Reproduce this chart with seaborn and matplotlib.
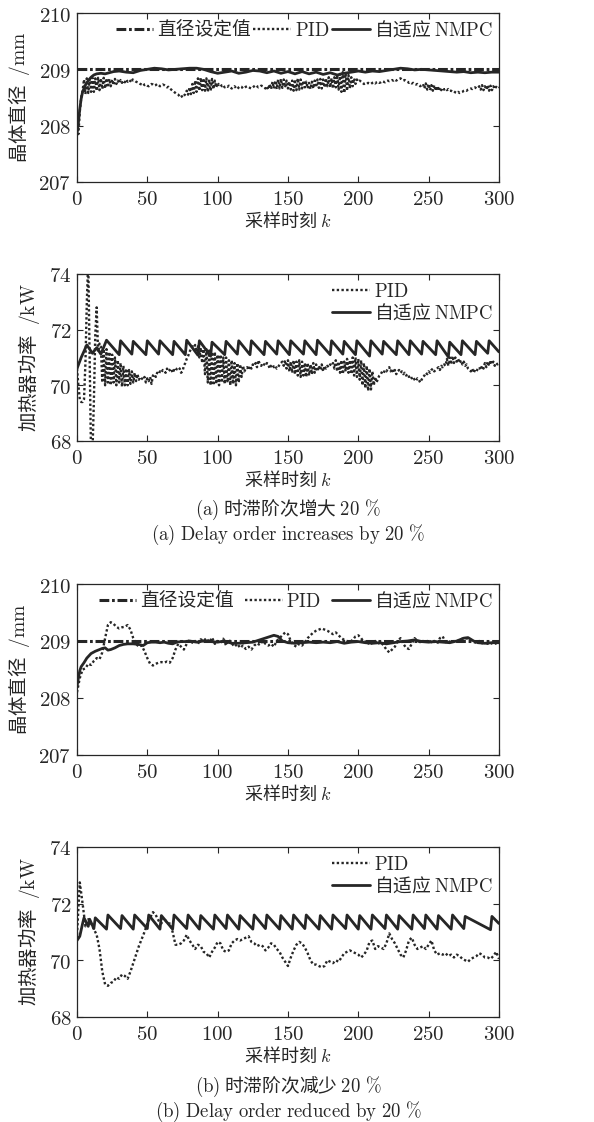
import matplotlib
matplotlib.use("Agg")
import matplotlib.pyplot as plt
from matplotlib.ticker import FuncFormatter
import numpy as np
import seaborn as sns

# ---- data (sample index k) ----
setpoint_k = [0, 300]
setpoint_d = [209.0, 209.0]

# (a) diameter, PID, one value per sample 0..300
a_pid_d = [
    207.95, 207.85, 208.25, 208.5, 208.62,
    208.82, 208.56, 208.84, 208.58, 208.83, 208.6, 208.85, 208.6, 208.84, 208.62,
    208.85, 208.63, 208.84, 208.65, 208.85, 208.66, 208.84, 208.68, 208.83, 208.7,
    208.82, 208.72, 208.83, 208.74, 208.8, 208.75, 208.81, 208.76, 208.8, 208.77,
    208.82, 208.78, 208.81, 208.79, 208.84, 208.8, 208.8, 208.78, 208.77, 208.76,
    208.74, 208.73, 208.75, 208.72, 208.73, 208.71, 208.7, 208.72, 208.74, 208.73,
    208.71, 208.72, 208.74, 208.72, 208.7, 208.71, 208.73, 208.72, 208.7, 208.68,
    208.69, 208.66, 208.64, 208.62, 208.6, 208.58,
    208.56, 208.55, 208.52, 208.54, 208.5, 208.53, 208.56,
    208.62, 208.55, 208.68, 208.56, 208.74, 208.58, 208.8, 208.6, 208.84, 208.62,
    208.85, 208.63, 208.84, 208.62, 208.84, 208.6, 208.82, 208.62, 208.83, 208.65,
    208.8, 208.68,
    208.76, 208.72, 208.74, 208.7, 208.72, 208.68, 208.7, 208.69, 208.71, 208.68,
    208.66, 208.68, 208.7, 208.67, 208.65, 208.68, 208.7, 208.69, 208.66, 208.67,
    208.69, 208.7, 208.68, 208.67, 208.66, 208.68, 208.7, 208.72, 208.7, 208.68,
    208.69, 208.71, 208.7, 208.68, 208.66,
    208.7, 208.64, 208.74, 208.65, 208.78, 208.66, 208.8, 208.65, 208.82, 208.66,
    208.83, 208.67, 208.82, 208.68, 208.8, 208.66,
    208.78, 208.64, 208.8, 208.62, 208.82, 208.63, 208.84, 208.64, 208.82, 208.66,
    208.8, 208.68, 208.78, 208.66, 208.76, 208.65, 208.78, 208.66, 208.8, 208.68,
    208.82, 208.67, 208.83, 208.66, 208.82, 208.68, 208.84, 208.7, 208.86, 208.68,
    208.84, 208.66, 208.86, 208.68, 208.9, 208.64, 208.92, 208.6, 208.95, 208.58,
    208.93, 208.62, 208.9, 208.66, 208.86, 208.7, 208.84, 208.74, 208.82, 208.78,
    208.8, 208.78, 208.76, 208.74, 208.75, 208.74, 208.76, 208.75, 208.74, 208.76,
    208.77, 208.75, 208.77, 208.78, 208.76, 208.77, 208.79, 208.78, 208.77, 208.79,
    208.8, 208.79, 208.8, 208.81, 208.8, 208.82, 208.8, 208.82, 208.83, 208.84,
    208.82, 208.8, 208.81, 208.79, 208.78, 208.76, 208.77, 208.75, 208.76, 208.74,
    208.73, 208.74, 208.72, 208.7, 208.72,
    208.74, 208.66, 208.75, 208.64, 208.74, 208.63, 208.72, 208.62, 208.72, 208.62,
    208.7, 208.62, 208.68, 208.63, 208.67, 208.64, 208.66, 208.63, 208.65, 208.62,
    208.62, 208.6, 208.61, 208.59, 208.58, 208.6, 208.58, 208.59, 208.6, 208.62,
    208.63, 208.62, 208.64, 208.65, 208.66, 208.65, 208.67, 208.68, 208.66, 208.67,
    208.7, 208.64, 208.72, 208.63, 208.7, 208.64, 208.72, 208.62, 208.71, 208.63,
    208.7, 208.65, 208.69, 208.66, 208.68,
]

a_nmpc_k = [0, 1, 2, 3, 4, 6, 8, 10, 12, 14,
            17, 20, 23, 26, 30, 35, 40, 45, 50, 55,
            60, 65, 70, 75, 80, 85, 90, 95, 100, 105,
            110, 115, 120, 125, 130, 135, 140, 145, 150, 155,
            160, 165, 170, 175, 180, 185, 190, 195, 200, 205,
            210, 215, 220, 225, 230, 235, 240, 245, 250, 255,
            260, 265, 270, 275, 280, 285, 290, 295, 300]
a_nmpc_d = [207.85, 208.05, 208.3, 208.48, 208.6, 208.72, 208.8, 208.86, 208.9, 208.92,
            208.93, 208.92, 208.94, 208.96, 208.97, 208.95, 208.94, 208.98, 209.0, 209.02,
            209.01, 208.99, 209.0, 209.01, 209.02, 209.02, 209.0, 208.96, 208.93, 208.95,
            208.97, 208.93, 208.95, 208.98, 208.97, 208.94, 208.97, 208.93, 208.96, 208.92,
            208.96, 208.92, 208.95, 208.91, 208.94, 208.9, 208.93, 208.95, 208.97, 208.95,
            208.97, 208.96, 208.98, 209.0, 209.02, 209.01, 208.99, 209.0, 208.99, 208.98,
            208.97, 208.96, 208.95, 208.96, 208.94, 208.95, 208.94, 208.95, 208.95]

# (a) heater power, PID, one value per sample 0..300
a_pid_p = [
    70.6, 70.0, 69.5, 69.4, 69.4, 69.5, 70.8, 73.0, 74.5, 71.0,
    67.5, 67.6, 69.4, 71.8, 72.8, 71.2, 71.5,
    71.4, 70.1, 71.3, 70.0, 71.3, 70.1, 71.2, 70.0, 71.1, 70.1,
    71.0, 70.0, 70.9, 70.1, 70.8, 69.95, 70.7, 70.0, 70.6, 70.0,
    70.55, 70.05, 70.5, 70.1,
    70.45, 70.15, 70.4, 70.2, 70.3, 70.25, 70.2, 70.3, 70.1, 70.25,
    70.15, 70.3, 70.05, 70.35, 70.4,
    70.3, 70.45, 70.4, 70.5, 70.45, 70.55, 70.5, 70.45, 70.6, 70.5,
    70.55, 70.6, 70.45, 70.55, 70.5, 70.6, 70.65, 70.6, 70.45, 70.5,
    70.7, 70.8, 70.95, 71.05, 71.2,
    71.3, 71.4, 71.35, 71.45, 71.2, 71.4, 71.0, 71.35, 70.8, 71.3,
    70.4, 71.3, 70.1, 71.25, 70.0, 71.2, 70.0, 71.2, 70.05, 71.1,
    70.0, 71.1, 70.1, 71.0, 70.05, 71.0, 70.1, 70.9, 70.0, 70.9,
    70.05, 70.8, 70.0, 70.8, 70.1, 70.75,
    70.3, 70.7, 70.5, 70.6, 70.65, 70.55, 70.7, 70.6, 70.75, 70.7,
    70.8, 70.65, 70.9, 70.75, 70.7, 70.8, 70.75, 70.7, 70.8, 70.75,
    70.6, 70.7, 70.75, 70.65, 70.7, 70.6, 70.65, 70.75, 70.8,
    70.85, 70.7, 70.9, 70.6, 70.9, 70.5, 70.85, 70.45, 70.9, 70.4,
    70.85, 70.35, 70.9, 70.3, 70.85, 70.35, 70.8, 70.3, 70.8, 70.35,
    70.75, 70.4, 70.8, 70.45, 70.75, 70.5, 70.7, 70.55, 70.75, 70.5,
    70.7, 70.6, 70.7, 70.65, 70.75,
    70.7, 70.8, 70.6, 70.9, 70.5, 70.85, 70.45, 70.9, 70.4, 70.85,
    70.5, 70.95, 70.45, 70.9, 70.4, 71.0, 70.35, 71.0, 70.3, 70.95,
    70.2, 70.9, 70.0, 70.8, 69.9, 70.7, 69.8, 70.6, 69.85, 70.5,
    70.0, 70.3, 70.1, 70.25,
    70.35, 70.4, 70.5, 70.45, 70.55, 70.5, 70.6, 70.65, 70.5, 70.6,
    70.45, 70.55, 70.4, 70.5, 70.55, 70.45, 70.5, 70.4, 70.45, 70.35,
    70.4, 70.3, 70.35, 70.25, 70.3, 70.2, 70.15, 70.25, 70.2, 70.1,
    70.2,
    70.3, 70.35, 70.45, 70.4, 70.5, 70.45, 70.55, 70.6, 70.5, 70.55,
    70.6, 70.65, 70.55, 70.7, 70.65, 70.75, 70.7,
    70.95, 70.7, 71.0, 70.75, 71.05, 70.8, 71.0, 70.85, 70.95, 70.8,
    70.9, 70.75, 70.85,
    70.7, 70.75, 70.6, 70.55, 70.5, 70.6, 70.45, 70.55, 70.5, 70.6,
    70.65, 70.55, 70.7, 70.6, 70.8, 70.65, 70.85, 70.7, 70.9, 70.75,
    70.85, 70.7, 70.8, 70.75, 70.8,
]

a_nmpc_k_p = [0, 3, 7, 11, 14, 17, 21,
              30, 31, 39, 40, 49, 50, 58, 59, 68, 69, 77, 78,
              86, 87, 95, 96, 105, 106, 114, 115, 123, 124,
              133, 134, 142, 143, 151, 152, 161, 162, 170, 171,
              180, 181, 189, 190, 198, 199, 208, 209, 217, 218,
              227, 228, 236, 237, 245, 246, 255, 256, 264, 265,
              273, 274, 283, 284, 292, 293, 300]
a_nmpc_p = [70.6, 71.0, 71.45, 71.15, 71.35, 71.12, 71.62,
            71.1, 71.6, 71.12, 71.58, 71.1, 71.6, 71.12, 71.6, 71.1, 71.58, 71.1, 71.62,
            71.08, 71.6, 71.05, 71.55, 71.1, 71.58, 71.12, 71.6, 71.1, 71.6,
            71.1, 71.58, 71.12, 71.6, 71.1, 71.6, 71.12, 71.6, 71.1, 71.62,
            71.1, 71.6, 71.12, 71.58, 71.1, 71.6, 71.05, 71.6, 71.12, 71.58,
            71.1, 71.6, 71.1, 71.6, 71.12, 71.58, 71.1, 71.6, 71.02, 71.55,
            71.1, 71.6, 71.1, 71.58, 71.15, 71.6, 71.2]

# (b) diameter, PID, every 2nd sample 0..300
b_pid_d = [
    208.1, 208.35, 208.5, 208.52, 208.6, 208.58, 208.65, 208.7, 208.68, 208.8,
    209.05, 209.28, 209.33, 209.3, 209.25, 209.22, 209.24, 209.25, 209.28, 209.2,
    209.05, 208.95, 208.9, 208.92, 208.82, 208.7, 208.6, 208.57, 208.6, 208.62,
    208.63, 208.62, 208.64, 208.62, 208.7, 208.85, 208.95, 208.9, 208.85, 208.95,
    209.02, 208.97, 209.0, 208.95, 209.03, 209.0, 209.05, 208.98, 209.06, 208.95,
    209.0, 208.96, 209.04, 208.92, 209.02, 208.96, 208.9, 208.95, 208.88, 208.92,
    208.86, 208.9, 208.85, 208.92, 208.96, 208.93, 209.0, 208.95, 208.92, 208.95,
    208.9, 209.0, 209.05, 209.1, 209.15, 209.12, 209.0, 208.93, 208.9, 208.95,
    208.92, 208.98, 209.05, 209.1, 209.15, 209.18, 209.2, 209.22, 209.2, 209.18,
    209.15, 209.12, 209.15, 209.1, 209.05, 209.02, 209.0, 208.98, 209.02, 209.08,
    209.1, 209.05, 208.98, 209.0, 208.93, 208.97, 209.0, 208.95, 208.98, 208.92,
    208.85, 208.8, 208.85, 208.9, 209.0, 209.05, 208.95, 208.88, 208.86, 208.95,
    209.05, 209.0, 208.98, 209.0, 208.97, 209.02, 208.98, 209.0, 208.95, 209.05,
    209.08, 208.98, 209.0, 208.97, 209.0, 208.99, 209.02, 209.04, 209.05, 209.04,
    209.02, 208.98, 208.97, 209.0, 208.96, 208.98, 208.95, 208.97, 208.94, 208.96,
    208.95,
]

b_nmpc_k = [0, 1, 2, 3, 5, 7, 10, 13, 16, 18,
            20, 22, 24, 27, 30, 33, 36, 40, 44, 47,
            50, 53, 56, 59, 62, 65, 68, 71, 74, 77,
            80, 85, 90, 95, 100, 105, 110, 115, 120, 125,
            130, 135, 140, 143, 146, 150, 155, 160, 165, 170,
            175, 180, 185, 190, 195, 200, 205, 210, 215, 220,
            225, 230, 235, 240, 245, 250, 255, 260, 265, 270,
            275, 278, 282, 285, 290, 295, 300]
b_nmpc_d = [208.2, 208.35, 208.48, 208.55, 208.62, 208.7, 208.78, 208.82, 208.85, 208.87,
            208.88, 208.84, 208.85, 208.88, 208.92, 208.94, 208.95, 208.95, 208.94, 208.92,
            208.97, 208.98, 208.98, 208.97, 208.98, 208.96, 208.95, 208.98, 208.99, 208.99,
            209.0, 208.98, 209.0, 208.99, 208.98, 209.0, 208.96, 208.96, 208.97, 208.98,
            209.02, 209.06, 209.1, 209.08, 209.0, 208.97, 208.96, 208.97, 208.98, 208.97,
            208.98, 208.97, 208.99, 208.96, 208.98, 208.99, 208.97, 208.96, 208.97, 208.95,
            208.97, 208.99, 209.0, 209.02, 208.99, 208.98, 208.99, 208.98, 208.97, 209.0,
            209.05, 209.06, 209.0, 208.97, 208.96, 208.97, 208.97]

# (b) heater power, PID, every 2nd sample 0..300
b_pid_p = [
    70.9, 72.75, 72.0, 71.2, 71.45, 71.3, 71.1, 70.9, 70.4, 69.6,
    69.15, 69.1, 69.2, 69.25, 69.4, 69.35, 69.5, 69.45, 69.35, 69.6,
    69.9, 70.2, 70.5, 70.75, 71.0, 71.3, 71.5, 71.7, 71.6, 71.4,
    71.3, 71.5, 71.3, 71.3, 71.0, 70.55, 70.55, 70.6, 70.7, 70.9,
    70.7, 70.55, 70.4, 70.55, 70.5, 70.3, 70.25, 70.1, 70.3, 70.45,
    70.65, 70.6, 70.35, 70.3, 70.35, 70.6, 70.7, 70.75, 70.7, 70.75,
    70.8, 70.85, 70.65, 70.6, 70.5, 70.55, 70.5, 70.35, 70.45, 70.6,
    70.55, 70.4, 70.3, 70.1, 69.95, 69.8, 70.1, 70.35, 70.55, 70.65,
    70.6, 70.45, 70.25, 70.0, 69.85, 69.85, 69.8, 69.75, 69.8, 70.0,
    69.95, 69.9, 70.0, 69.95, 70.1, 70.25, 70.3, 70.35, 70.3, 70.25,
    70.2, 70.1, 70.2, 70.35, 70.65, 70.7, 70.4, 70.5, 70.45, 70.4,
    70.6, 70.95, 70.75, 70.6, 70.4, 70.2, 70.1, 70.35, 70.7, 70.8,
    70.55, 70.4, 70.45, 70.5, 70.4, 70.55, 70.7, 70.35, 70.2, 70.25,
    70.2, 70.25, 70.15, 70.2, 70.1, 70.2, 70.15, 70.05, 70.0, 69.95,
    70.05, 70.1, 70.15, 70.25, 70.2, 70.1, 70.1, 70.05, 70.15, 70.3,
    70.05,
]

b_nmpc_k_p = [0, 2, 4, 5, 8, 9, 12, 13,
              21, 22, 31, 32, 40, 41, 50, 51, 59, 60, 68, 69,
              78, 79, 87, 88, 97, 98, 106, 107, 115, 116,
              125, 126, 134, 135, 144, 145, 153, 154, 162, 163,
              172, 173, 181, 182, 191, 192, 200, 201, 209, 210,
              219, 220, 228, 229, 238, 239, 247, 248, 256, 257,
              266, 267, 275, 276, 294, 295, 300]
b_nmpc_p = [70.7, 70.85, 71.3, 71.5, 71.2, 71.45, 71.12, 71.5,
            71.1, 71.6, 71.12, 71.58, 71.1, 71.6, 71.12, 71.6, 71.1, 71.58, 71.1, 71.6,
            71.12, 71.6, 71.1, 71.58, 71.1, 71.6, 71.12, 71.6, 71.1, 71.58,
            71.1, 71.6, 71.12, 71.6, 71.1, 71.58, 71.1, 71.6, 71.12, 71.6,
            71.1, 71.58, 71.1, 71.6, 71.12, 71.6, 71.1, 71.58, 71.1, 71.6,
            71.12, 71.6, 71.1, 71.58, 71.1, 71.6, 71.12, 71.6, 71.1, 71.58,
            71.1, 71.6, 71.12, 71.55, 71.08, 71.55, 71.3]

x_ticks = [0, 50, 100, 150, 200, 250, 300]
d_ticks = [207, 208, 209, 210]
p_ticks = [68, 70, 72, 74]

lbl_set = "直径设定值"
lbl_pid = r"$\mathrm{PID}$"
lbl_nmpc = r"自适应 $\mathrm{NMPC}$"
x_label = r"采样时刻 $k$"
d_label = r"晶体直径 $\ /\mathrm{mm}$"
p_label = r"加热器功率 $\ /\mathrm{kW}$"
cap_a_cn = r"$\mathrm{(a)}$ 时滞阶次增大 $\mathrm{20\ \%}$"
cap_a_en = r"$\mathrm{(a)\ Delay\ order\ increases\ by\ 20\ \%}$"
cap_b_cn = r"$\mathrm{(b)}$ 时滞阶次减少 $\mathrm{20\ \%}$"
cap_b_en = r"$\mathrm{(b)\ Delay\ order\ reduced\ by\ 20\ \%}$"

INK = "#262626"
DOT = (0, (1, 1))
DASHDOT = (0, (3.2, 0.9, 0.9, 0.9))


def style_axes(ax, yticks, ylabel):
	ax.set_xlim(0, 300)
	ax.set_ylim(yticks[0], yticks[-1])
	ax.set_xticks(x_ticks)
	ax.set_yticks(yticks)
	fmt = FuncFormatter(lambda v, p: f"${v:g}$")
	ax.xaxis.set_major_formatter(fmt)
	ax.yaxis.set_major_formatter(fmt)
	ax.tick_params(direction="in", top=True, right=True, length=4, width=0.8,
				   labelsize=15, colors=INK, pad=4)
	for s in ax.spines.values():
		s.set_linewidth(0.9)
		s.set_color(INK)
	ax.set_xlabel(x_label, fontsize=13, labelpad=1, color=INK)
	ax.set_ylabel(ylabel, fontsize=14, labelpad=5, color=INK)


def main() -> None:
	sns.set_style("ticks")
	plt.rcParams["font.family"] = ["Noto Sans CJK SC", "DejaVu Sans"]
	plt.rcParams["mathtext.fontset"] = "cm"
	plt.rcParams["axes.unicode_minus"] = False

	fig = plt.figure(figsize=(5.94, 11.22), dpi=100)
	L, W = 0.1296, 0.7104
	ax1 = fig.add_axes([L, 0.8378, W, 0.1506])
	ax2 = fig.add_axes([L, 0.6070, W, 0.1488])
	ax3 = fig.add_axes([L, 0.3271, W, 0.1524])
	ax4 = fig.add_axes([L, 0.0936, W, 0.1515])

	k_full = np.arange(len(a_pid_d))
	k_half = np.arange(0, 2 * len(b_pid_d), 2)

	# diameter panels
	for ax, pid_k, pid_v, nk, nv, colsp in [
		(ax1, k_full, a_pid_d, a_nmpc_k, a_nmpc_d, 0.15),
		(ax3, k_half, b_pid_d, b_nmpc_k, b_nmpc_d, 0.6),
	]:
		sns.lineplot(x=setpoint_k, y=setpoint_d, ax=ax, color=INK, lw=2.2,
					 linestyle=DASHDOT, label=lbl_set, estimator=None, legend=False)
		sns.lineplot(x=pid_k, y=pid_v, ax=ax, color=INK, lw=1.7,
					 linestyle=DOT, label=lbl_pid, estimator=None, legend=False)
		sns.lineplot(x=nk, y=nv, ax=ax, color=INK, lw=2.0,
					 label=lbl_nmpc, estimator=None, legend=False)
		style_axes(ax, d_ticks, d_label)
		ax.legend(loc="upper right", ncol=3, frameon=False, fontsize=13.5,
				  handlelength=2.0, handletextpad=0.2, columnspacing=colsp,
				  borderaxespad=0.15, borderpad=0.2, labelcolor=INK)

	# power panels
	for ax, pid_k, pid_v, nk, nv in [
		(ax2, k_full[:len(a_pid_p)], a_pid_p, a_nmpc_k_p, a_nmpc_p),
		(ax4, k_half, b_pid_p, b_nmpc_k_p, b_nmpc_p),
	]:
		sns.lineplot(x=pid_k, y=pid_v, ax=ax, color=INK, lw=1.7,
					 linestyle=DOT, label=lbl_pid, estimator=None, legend=False)
		sns.lineplot(x=nk, y=nv, ax=ax, color=INK, lw=2.0,
					 label=lbl_nmpc, estimator=None, legend=False)
		style_axes(ax, p_ticks, p_label)
		ax.legend(loc="upper right", ncol=1, frameon=False, fontsize=13.5,
				  handlelength=2.0, handletextpad=0.2, labelspacing=0.05,
				  borderaxespad=0.15, borderpad=0.2, labelcolor=INK)

	cx = 0.485
	fig.text(cx, 1 - 510 / 1122, cap_a_cn, ha="center", va="center", fontsize=13.5, color=INK)
	fig.text(cx, 1 - 535 / 1122, cap_a_en, ha="center", va="center", fontsize=13.5, color=INK)
	fig.text(cx, 1 - 1087 / 1122, cap_b_cn, ha="center", va="center", fontsize=13.5, color=INK)
	fig.text(cx, 1 - 1112 / 1122, cap_b_en, ha="center", va="center", fontsize=13.5, color=INK)

	fig.savefig("out.png", dpi=100)


if __name__ == "__main__":
	main()
